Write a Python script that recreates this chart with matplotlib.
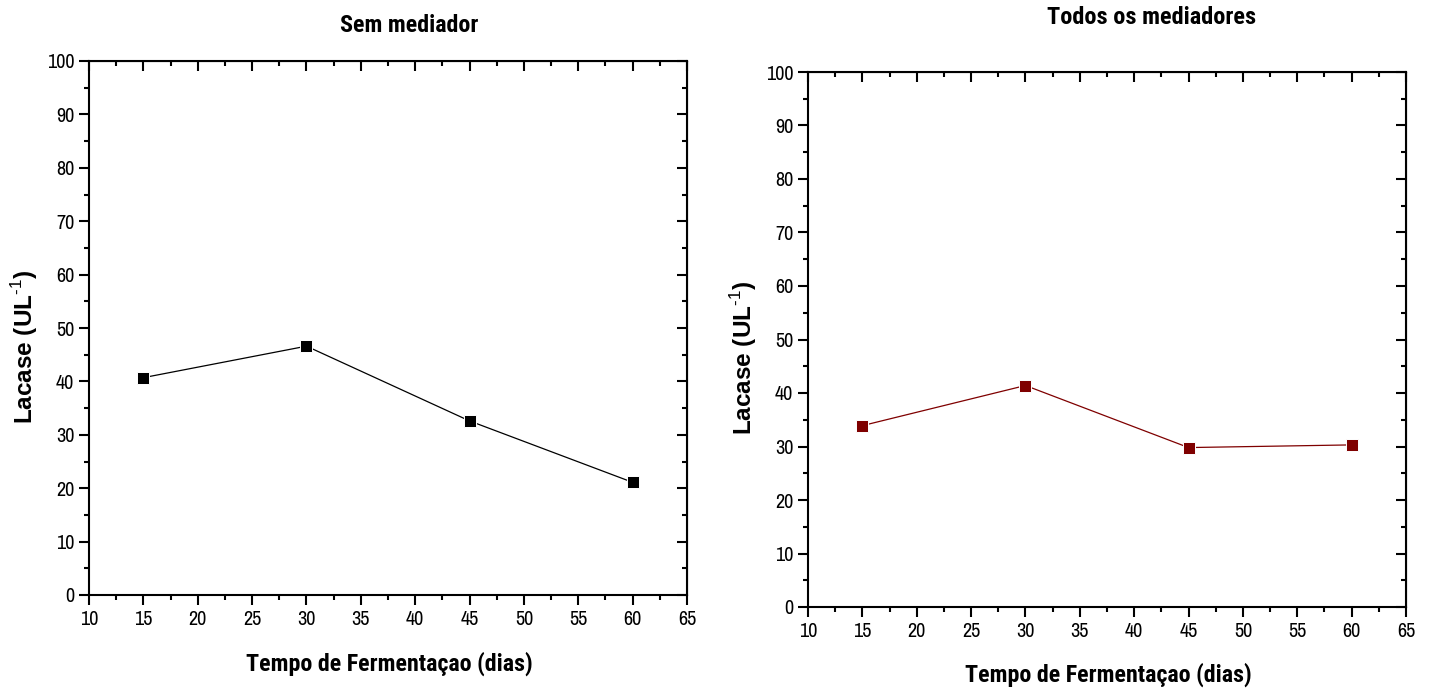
import matplotlib
matplotlib.use("Agg")
import matplotlib.pyplot as plt
from matplotlib import font_manager
from matplotlib.ticker import MultipleLocator

# Fermentation time (days) and laccase activity (U/L)
dias = [15, 30, 45, 60]
lacase_sem_mediador = [40.7, 46.6, 32.6, 21.1]
lacase_todos_mediadores = [33.9, 41.4, 29.8, 30.3]

titulos = ["Sem mediador", "Todos os mediadores"]
xlabel = "Tempo de Fermentaçao (dias)"
ylabel = r"Lacase (UL$^{\text{-1}}$)"

available = {f.name for f in font_manager.fontManager.ttflist}


def pick(*names):
    return [n for n in names if n in available] + ["DejaVu Sans"]


narrow = pick("Archivo Narrow", "Roboto Condensed", "Liberation Sans")
narrow_bold = pick("Roboto Condensed", "Archivo Narrow", "Liberation Sans")
wide_bold = pick("Liberation Sans", "Arimo")

plt.rcParams["font.family"] = narrow
plt.rcParams["mathtext.fontset"] = "custom"
plt.rcParams["mathtext.rm"] = "Liberation Sans"

W, H = 1429, 688
fig = plt.figure(figsize=(W / 100, H / 100), dpi=100)


def px_axes(x0, x1, y0, y1):
    return fig.add_axes([x0 / W, 1 - y1 / H, (x1 - x0) / W, (y1 - y0) / H])


def set_ticks(axis_obj, major, minor):
    axis_obj.set_major_locator(MultipleLocator(major))
    axis_obj.set_minor_locator(MultipleLocator(minor))


def style(ax):
    ax.set_xlim(10, 65)
    ax.set_ylim(0, 100)
    set_ticks(ax.xaxis, 5, 2.5)
    set_ticks(ax.yaxis, 10, 5)
    for s in ax.spines.values():
        s.set_linewidth(1.5)
    ax.tick_params(which="both", direction="out", top=False, right=False,
                   width=1.5, labelsize=14.5)
    ax.tick_params(which="major", length=7.2)
    ax.tick_params(which="minor", length=3.6)
    ax.tick_params(axis="x", pad=3.5)
    ax.tick_params(axis="y", pad=3.5)
    sec_x = ax.secondary_xaxis("top")
    sec_y = ax.secondary_yaxis("right")
    set_ticks(sec_x.xaxis, 5, 2.5)
    set_ticks(sec_y.yaxis, 10, 5)
    for sec in (sec_x, sec_y):
        sec.tick_params(which="both", direction="in", width=1.5)
        sec.tick_params(which="major", length=7.2)
        sec.tick_params(which="minor", length=3.6)
    sec_x.set_xticklabels([])
    sec_y.set_yticklabels([])


ax1 = px_axes(89, 687, 61, 595)
ax2 = px_axes(808, 1406, 72, 607)

for ax, y, cor in ((ax1, lacase_sem_mediador, "black"),
                   (ax2, lacase_todos_mediadores, "#7f0000")):
    style(ax)
    ax.plot(dias, y, color=cor, lw=0.9, marker="s", markersize=8,
            markerfacecolor=cor, markeredgecolor="white", markeredgewidth=0.7,
            zorder=3, clip_on=False)

# titles and axis labels
fig.text(409 / W, 1 - 26 / H, titulos[0], ha="center", va="center",
         fontsize=17.3, fontweight="bold", family=narrow_bold)
fig.text(1152 / W, 1 - 18 / H, titulos[1], ha="center", va="center",
         fontsize=17.5, fontweight="bold", family=narrow_bold)
fig.text(389 / W, 1 - 664 / H, xlabel, ha="center", va="center",
         fontsize=17.3, fontweight="bold", family=narrow_bold)
fig.text(1108 / W, 1 - 675 / H, xlabel, ha="center", va="center",
         fontsize=17.3, fontweight="bold", family=narrow_bold)
for xp, yp in ((25, 347), (744, 358)):
    fig.text(xp / W, 1 - yp / H, ylabel, ha="center", va="center",
             rotation=90, fontsize=17.5, fontweight="bold", family=wide_bold)

fig.savefig("out.png", dpi=100)
